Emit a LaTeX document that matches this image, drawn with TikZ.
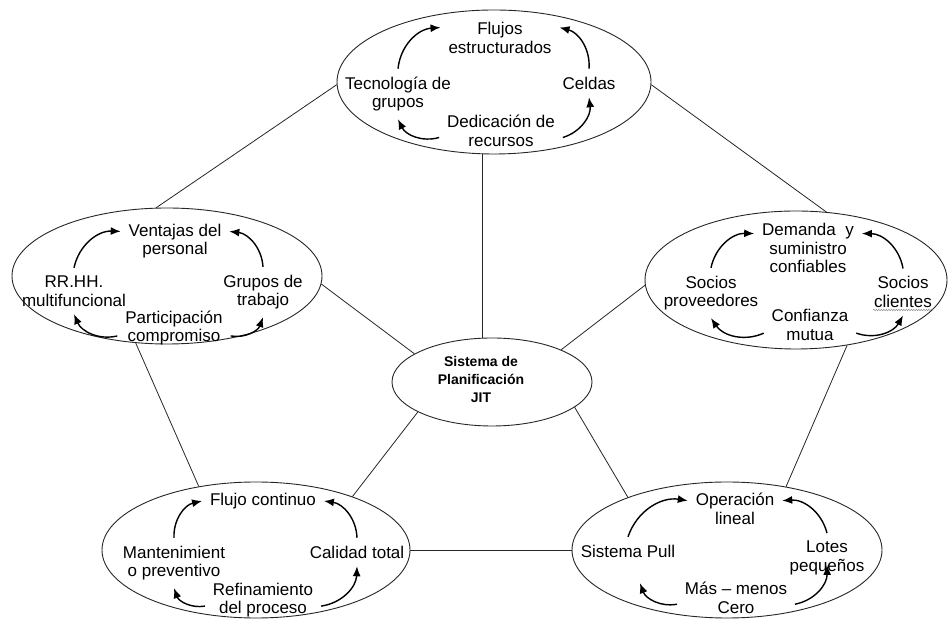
\documentclass[tikz,border=0pt]{standalone}
\usepackage{fontspec}
\setmainfont{Liberation Sans}
\usepackage{tikz}
\usetikzlibrary{shapes.geometric, arrows.meta, decorations.pathmorphing}

\begin{document}
\begin{tikzpicture}[
  x=1pt, y=1pt,
  oval_box/.style={ellipse, draw=black!85, line width=0.9pt, inner sep=0pt},
  hub_text/.style={align=center, font=\fontsize{14}{18}\selectfont\bfseries},
  item_text/.style={align=center, inner sep=2pt, outer sep=6pt, font=\fontsize{17}{18.5}\selectfont},
  loop_arrow/.style={-{Latex[length=10pt,width=8pt]}, line width=1.4pt, bend angle=40},
  link_line/.style={draw=black!85, line width=0.8pt}
]
\useasboundingbox (0,0) rectangle (949,620);

% Ovals
\node[oval_box, minimum width=200pt, minimum height=88pt] (jit) at (492,238) {};
\node[hub_text] (jit_txt) at (481,240) {Sistema de\\Planificación\\JIT};
\node[oval_box, minimum width=314pt, minimum height=144pt] (tec) at (494,538) {};
\node[oval_box, minimum width=310pt, minimum height=136pt] (per) at (167,344) {};
\node[oval_box, minimum width=302pt, minimum height=138pt] (soc) at (796,340) {};
\node[oval_box, minimum width=308pt, minimum height=136pt] (cal) at (256,70) {};
\node[oval_box, minimum width=310pt, minimum height=136pt] (pul) at (727,70) {};

% Links between ovals
\draw[link_line] (tec.181) -- (per.99);
\draw[link_line] (tec.359) -- (soc.66);
\draw[link_line] (jit.102) -- (jit.102 |- tec.south);
\draw[link_line] (per.357) -- (jit.160);
\draw[link_line] (soc.182) -- (jit.25);
\draw[link_line] (per.245) -- (cal.132);
\draw[link_line] (jit.202) -- (cal.29);
\draw[link_line] (jit.343) -- (pul.152);
\draw[link_line] (soc.308) -- (pul.47);
\draw[link_line] (cal.east) -- (pul.west);

% Top oval
\node[item_text] (flujos) at (500,582) {Flujos\\estructurados};
\node[item_text] (tecno) at (398,526) {Tecnología de\\grupos};
\node[item_text] (celdas) at (589,537) {Celdas};
\node[item_text] (dedica) at (501,489) {Dedicación de\\recursos};
\draw[loop_arrow] (tecno.north) to[bend left] (flujos.170);
\draw[loop_arrow] (celdas.north) to[bend right] (flujos.10);
\draw[loop_arrow] (dedica.186) to[bend left] (tecno.south);
\draw[loop_arrow] (dedica.354) to[bend right] (celdas.south);

% Left oval
\node[item_text] (ventajas) at (175,379) {Ventajas del\\personal};
\node[item_text] (rrhh) at (74,329) {RR.HH.\\multifuncional};
\node[item_text] (grupos) at (263,328) {Grupos de\\trabajo};
\node[item_text] (particip) at (174,292) {Participación\\compromiso};
\draw[loop_arrow] (rrhh.north) to[bend left] (ventajas.170);
\draw[loop_arrow] (grupos.north) to[bend right] (ventajas.10);
\draw[loop_arrow] (particip.188) to[bend left] (rrhh.south);
\draw[loop_arrow] (particip.352) to[bend right] (grupos.south);

% Right oval
\node[item_text] (demanda) at (808,372) {Demanda~ y\\suministro\\confiables};
\node[item_text] (proveed) at (711,327) {Socios\\proveedores};
\node[item_text] (clientes) at (903,328) {Socios\\clientes};
\node[item_text] (confianza) at (810,295) {Confianza\\mutua};
\draw[loop_arrow] (proveed.north) to[bend left] (demanda.165);
\draw[loop_arrow] (clientes.north) to[bend right] (demanda.15);
\draw[loop_arrow] (confianza.190) to[bend left] (proveed.south);
\draw[loop_arrow] (confianza.350) to[bend right] (clientes.south);
\draw[decorate, decoration={snake, amplitude=0.7pt, segment length=2.5pt}, black!45, line width=0.5pt]
  ([xshift=-30pt,yshift=-18pt]clientes.center) -- ([xshift=30pt,yshift=-18pt]clientes.center);

% Bottom left oval
\node[item_text] (flujoc) at (263,119) {Flujo continuo};
\node[item_text] (manten) at (174,57) {Mantenimient\\o preventivo};
\node[item_text] (calidad) at (357,68) {Calidad total};
\node[item_text] (refin) at (263,20) {Refinamiento\\del proceso};
\draw[loop_arrow] (manten.north) to[bend left] (flujoc.west);
\draw[loop_arrow] (calidad.north) to[bend right] (flujoc.east);
\draw[loop_arrow] (refin.186) to[bend left] (manten.south);
\draw[loop_arrow] (refin.354) to[bend right] (calidad.south);

% Bottom right oval
\node[item_text] (operac) at (735,111) {Operación\\lineal};
\node[item_text] (pull) at (628,69) {Sistema Pull};
\node[item_text] (lotes) at (827,62) {Lotes\\pequeños};
\node[item_text] (masmenos) at (736,22) {Más – menos\\Cero};
\draw[loop_arrow] (pull.north) to[bend left] (operac.170);
\draw[loop_arrow] (lotes.north) to[bend right] (operac.10);
\draw[loop_arrow] (masmenos.186) to[bend left] ([xshift=12pt,yshift=-18pt]pull.south);
\draw[loop_arrow] (masmenos.354) to[bend right] ([yshift=18pt]lotes.south);

\end{tikzpicture}
\end{document}
